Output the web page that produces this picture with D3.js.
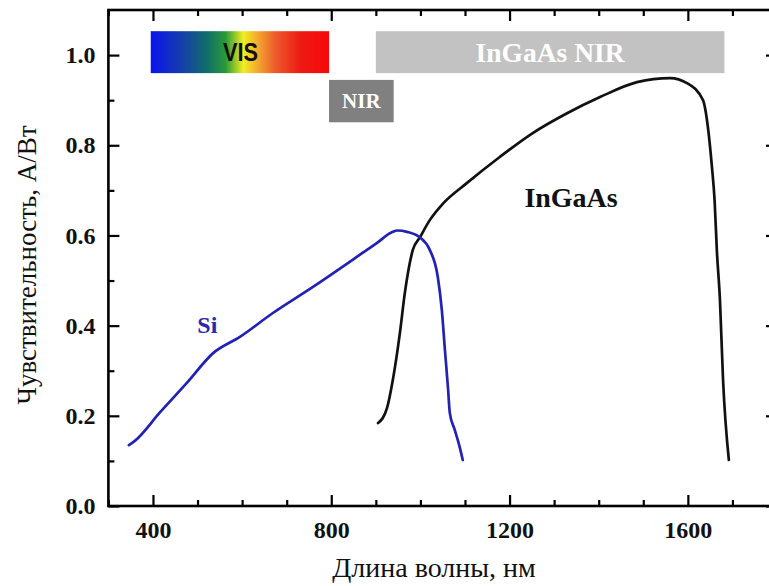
<!DOCTYPE html>
<html><head><meta charset="utf-8">
<script src="https://cdn.jsdelivr.net/npm/d3@7"></script>
<style>
html,body{margin:0;padding:0;background:#fff;overflow:hidden}
svg{display:block}
</style></head>
<body>
<svg id="chart" width="769" height="586"></svg>
<script>
// ---- data ----
const siWavelength = [346, 360, 416, 476, 535, 595, 669, 759, 880, 902, 938, 948, 970, 1000, 1021, 1039, 1048, 1055, 1062, 1066, 1077, 1088, 1095];
const siValues     = [0.135, 0.145, 0.208, 0.273, 0.339, 0.375, 0.428, 0.486, 0.568, 0.583, 0.608, 0.611, 0.608, 0.595, 0.568, 0.508, 0.435, 0.346, 0.260, 0.206, 0.169, 0.131, 0.102];

const ingaasWavelength = [905, 925, 938, 954, 965, 983, 999, 1021, 1050, 1104, 1178, 1252, 1329, 1403, 1486, 1560, 1598, 1634, 1645, 1654, 1660, 1665, 1672, 1679, 1692];
const ingaasValues     = [0.184, 0.217, 0.279, 0.384, 0.472, 0.568, 0.596, 0.634, 0.670, 0.716, 0.774, 0.827, 0.871, 0.907, 0.940, 0.949, 0.938, 0.900, 0.840, 0.752, 0.678, 0.568, 0.457, 0.279, 0.102];

const bandNames  = ["VIS", "NIR", "InGaAs NIR"];
const bandStart  = [395, 795, 900];
const bandEnd    = [795, 940, 1682];
const bandTop    = [1.053, 0.945, 1.053];
const bandBottom = [0.960, 0.851, 0.960];

const xMajorTicks = [400, 800, 1200, 1600];
const xMinorTicks = [300, 500, 600, 700, 900, 1000, 1100, 1300, 1400, 1500, 1700];
const yMajorTicks = [0.0, 0.2, 0.4, 0.6, 0.8, 1.0];
const yMinorTicks = [0.1, 0.3, 0.5, 0.7, 0.9];

const curveLabels = ["Si", "InGaAs"];
const curveLabelX = [522, 1338];
const curveLabelY = [0.384, 0.663];

const xTitle = "Длина волны, нм";
const yTitle = "Чувствительность, А/Вт";

// ---- layout ----
const svg = d3.select("#chart");
const x = d3.scaleLinear().domain([300, 1800]).range([108.4, 777]);
const y = d3.scaleLinear().domain([0, 1.1]).range([506, 10]);
const serif = "'Liberation Serif','Times New Roman',serif";

// bands
const defs = svg.append("defs");
const grad = defs.append("linearGradient").attr("id", "visGrad").attr("x1", "0%").attr("x2", "100%");
[[0, "#0a14f0"], [0.18, "#1540a8"], [0.32, "#107068"], [0.42, "#2a9a38"], [0.52, "#f2ee20"], [0.6, "#f4a830"], [0.7, "#ec5a2c"], [0.84, "#ee1a14"], [1, "#f80808"]]
  .forEach(([o, c]) => grad.append("stop").attr("offset", o).attr("stop-color", c));

const bandFill = ["url(#visGrad)", "#808080", "#c2c2c2"];
bandNames.forEach((name, i) => {
  const x0 = x(bandStart[i]), x1 = x(bandEnd[i]);
  const y0 = y(bandTop[i]), y1 = y(bandBottom[i]);
  svg.append("rect").attr("x", x0).attr("y", y0).attr("width", x1 - x0).attr("height", y1 - y0).attr("fill", bandFill[i]);
  const t = svg.append("text").attr("y", (y0 + y1) / 2)
    .attr("text-anchor", "middle").attr("dominant-baseline", "central").text(name);
  if (i === 0) {
    t.attr("x", 240.5).attr("font-family", "'Liberation Sans',Arial,sans-serif").attr("font-weight", "bold")
     .attr("font-size", 25).attr("fill", "#111").attr("textLength", 35).attr("lengthAdjust", "spacingAndGlyphs");
  } else if (i === 1) {
    t.attr("x", (x0 + x1) / 2).attr("font-family", serif).attr("font-weight", "bold").attr("font-size", 21).attr("fill", "#fff");
  } else {
    t.attr("x", (x0 + x1) / 2).attr("font-family", serif).attr("font-weight", "bold").attr("font-size", 27.5).attr("fill", "#fff");
  }
});

// curves
const line = d3.line().x(d => x(d[0])).y(d => y(d[1])).curve(d3.curveMonotoneX);
svg.append("path").datum(d3.zip(ingaasWavelength, ingaasValues)).attr("d", line)
  .attr("fill", "none").attr("stroke", "#111").attr("stroke-width", 2.7).attr("stroke-linejoin", "round").attr("stroke-linecap", "round");
svg.append("path").datum(d3.zip(siWavelength, siValues)).attr("d", line)
  .attr("fill", "none").attr("stroke", "#2222b4").attr("stroke-width", 2.7).attr("stroke-linejoin", "round").attr("stroke-linecap", "round");

// curve labels
const labelColor = ["#2a2aa8", "#111"];
const labelSize = [24, 28];
curveLabels.forEach((s, i) => {
  svg.append("text").attr("x", x(curveLabelX[i])).attr("y", y(curveLabelY[i]))
    .attr("text-anchor", "middle").attr("font-family", serif).attr("font-weight", "bold")
    .attr("font-size", labelSize[i]).attr("fill", labelColor[i]).text(s);
});

// axes
function styleAxis(g) {
  g.select(".domain").remove();
  g.selectAll(".tick line").attr("stroke", "#000").attr("stroke-width", 2.2);
  g.selectAll(".tick text").attr("font-family", serif).attr("font-weight", "bold").attr("font-size", 24).attr("fill", "#111");
}
const fmt = d3.format(".1f");
svg.append("g").attr("transform", "translate(0,506)")
  .call(d3.axisBottom(x).tickValues(xMajorTicks).tickSize(-11).tickPadding(15).tickFormat(d3.format("d"))).call(styleAxis);
svg.append("g").attr("transform", "translate(0,506)")
  .call(d3.axisBottom(x).tickValues(xMinorTicks).tickSize(-6).tickFormat("")).call(styleAxis);
svg.append("g").attr("transform", "translate(0,10)")
  .call(d3.axisTop(x).tickValues(xMajorTicks).tickSize(-11).tickFormat("")).call(styleAxis);
svg.append("g").attr("transform", "translate(0,10)")
  .call(d3.axisTop(x).tickValues(xMinorTicks).tickSize(-6).tickFormat("")).call(styleAxis);
svg.append("g").attr("transform", "translate(108.4,0)")
  .call(d3.axisLeft(y).tickValues(yMajorTicks).tickSize(-11).tickPadding(13).tickFormat(fmt)).call(styleAxis);
svg.append("g").attr("transform", "translate(108.4,0)")
  .call(d3.axisLeft(y).tickValues(yMinorTicks).tickSize(-6).tickFormat("")).call(styleAxis);
svg.append("g").attr("transform", "translate(777,0)")
  .call(d3.axisRight(y).tickValues(yMajorTicks).tickSize(-11).tickFormat("")).call(styleAxis);
svg.append("g").attr("transform", "translate(777,0)")
  .call(d3.axisRight(y).tickValues(yMinorTicks).tickSize(-6).tickFormat("")).call(styleAxis);

// frame
svg.append("rect").attr("x", 108.4).attr("y", 10).attr("width", 777 - 108.4).attr("height", 496)
  .attr("fill", "none").attr("stroke", "#000").attr("stroke-width", 2.6);

// titles
svg.append("text").attr("x", 434).attr("y", 577).attr("text-anchor", "middle")
  .attr("font-family", serif).attr("font-size", 28).attr("fill", "#111").text(xTitle);
svg.append("text").attr("transform", "translate(36,265) rotate(-90)").attr("text-anchor", "middle")
  .attr("font-family", serif).attr("font-size", 27).attr("fill", "#111").text(yTitle);
</script>
</body></html>
